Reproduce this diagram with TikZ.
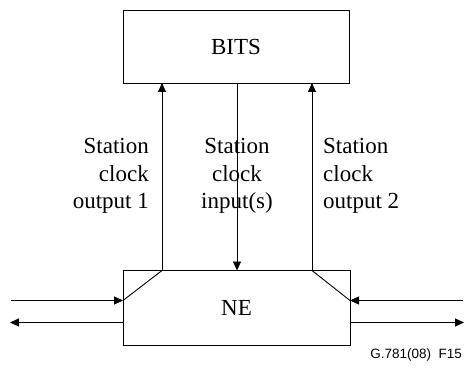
\documentclass[tikz,border=0pt]{standalone}
\usepackage{fontspec}
\setmainfont{Liberation Serif}
\newfontfamily\footfont{Liberation Sans}
\usetikzlibrary{arrows.meta}
\begin{document}
\begin{tikzpicture}[x=1pt,y=-1pt,
  boxstyle/.style={draw,line width=0.9pt,inner sep=0pt},
  conn/.style={line width=0.9pt},
  arr/.style={conn,-{Triangle[length=9pt,width=8pt]}},
  harr/.style={line width=1.2pt,-{Triangle[length=9pt,width=8pt]}},
  lbl/.style={font=\fontsize{23}{27.5}\selectfont,inner sep=0pt}]
\useasboundingbox (0,0) rectangle (464,369);
\node[boxstyle,minimum width=226pt,minimum height=73pt] (bits) at (236,46.5) {};
\node[lbl] (bitst) at (bits.center) {BITS};
\node[boxstyle,minimum width=227pt,minimum height=75pt] (ne) at (236.5,308) {};
\node[lbl] (net) at (ne.center) {NE};
\coordinate (l1) at (162,270.5);
\coordinate (l0) at (162,83);
\coordinate (m0) at (237,83);
\coordinate (m1) at (237,270.5);
\coordinate (r1) at (312,270.5);
\coordinate (r0) at (312,83);
\coordinate (li) at (123,300.5);
\coordinate (lo) at (123,322.5);
\coordinate (ri) at (350,300.5);
\coordinate (ro) at (350,322.5);
\coordinate (lin) at (11,300.5);
\coordinate (lout) at (10,322.5);
\coordinate (rin) at (463,300.5);
\coordinate (rout) at (464,322.5);
\draw[arr] (l1) -- (l0);
\draw[arr] (r1) -- (r0);
\draw[arr] (m0) -- (m1);
\draw[conn] (l1) -- (li);
\draw[conn] (r1) -- (ri);
\draw[harr] (lin) -- (li);
\draw[harr] (lo) -- (lout);
\draw[harr] (rin) -- (ri);
\draw[harr] (ro) -- (rout);
\node[lbl,align=right,anchor=east] (t1) at (149,176) {Station\\clock\\output 1};
\node[lbl,align=center] (t2) at (237,176) {Station\\clock\\input(s)};
\node[lbl,align=left,anchor=west] (t3) at (323,176) {Station\\clock\\output 2};
\node[font=\footfont\fontsize{13.5}{15}\selectfont,anchor=east,inner sep=0pt] (foot) at (462,355) {G.781(08)\ \ F15};
\end{tikzpicture}
\end{document}
